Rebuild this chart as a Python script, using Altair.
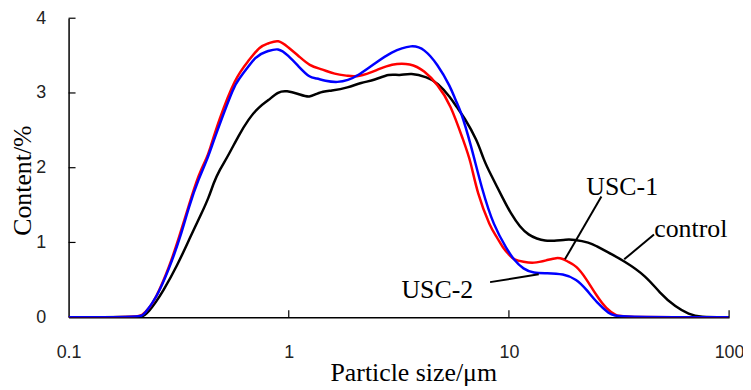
import altair as alt
import pandas as pd

# ---- data ----
control_x = [0.1, 0.2, 0.216, 0.2203, 0.2322, 0.2489, 0.2665, 0.3116, 0.3581, 0.3771, 0.3974, 0.4332,
             0.4563, 0.4806, 0.5333, 0.5916, 0.6565, 0.7283, 0.808, 0.8966, 0.9775, 1.104, 1.246,
             1.359, 1.561, 1.856, 2.132, 2.45, 2.864, 3.178, 3.585, 4.265, 4.732, 5.433, 5.825,
             6.246, 7.172, 7.69, 8.235, 9.465, 10.14, 11.25, 12.3, 13.38, 14.6, 15.92, 18.28,
             19.6, 23.28, 24.97, 27.7, 33.5, 41.98, 48.19, 57.35, 65.86, 73.06, 100]
control_y = [0, 0, 0.01, 0.02, 0.08, 0.2, 0.33, 0.69, 1.08, 1.22, 1.36, 1.6,
             1.8, 1.95, 2.17, 2.43, 2.65, 2.81, 2.9, 3.02, 3.03, 2.99, 2.93,
             3.01, 3.03, 3.07, 3.14, 3.17, 3.26, 3.23, 3.27, 3.21, 3.14, 2.94, 2.8,
             2.68, 2.37, 2.1, 1.92, 1.57, 1.4, 1.2, 1.1, 1.05, 1.02, 1.02, 1.04,
             1.04, 1.0, 0.95, 0.88, 0.75, 0.55, 0.33, 0.13, 0.04, 0, 0]

usc1_x = [0.1, 0.2, 0.216, 0.2322, 0.2489, 0.2858, 0.317, 0.3518, 0.3904, 0.4256, 0.4332, 0.4806,
          0.5716, 0.6565, 0.7413, 0.808, 0.8966, 0.9948, 1.104, 1.246, 1.407, 1.617, 1.856, 2.06,
          2.536, 2.912, 3.585, 4.121, 4.732, 5.433, 6.246, 6.69, 7.172, 8.235, 8.827, 9.465,
          10.14, 10.5, 11.65, 12.93, 14.85, 16.47, 17.66, 18.28, 20.28, 22.5, 24.97, 27.7,
          30.74, 32.95, 100]
usc1_y = [0, 0, 0.02, 0.12, 0.25, 0.66, 1.06, 1.5, 1.92, 2.14, 2.2, 2.63,
          3.21, 3.43, 3.63, 3.66, 3.72, 3.61, 3.5, 3.36, 3.32, 3.25, 3.23, 3.21,
          3.31, 3.39, 3.4, 3.3, 3.12, 2.85, 2.34, 2.1, 1.66, 1.2, 1.07, 0.91,
          0.82, 0.77, 0.74, 0.72, 0.76, 0.8, 0.78, 0.75, 0.69, 0.51, 0.29, 0.11,
          0.02, 0, 0]

usc2_x = [0.1, 0.2, 0.216, 0.2203, 0.2489, 0.2858, 0.3227, 0.3518, 0.3904, 0.4256, 0.4563, 0.5716,
          0.5916, 0.7154, 0.7939, 0.8966, 0.9948, 1.104, 1.246, 1.335, 1.457, 1.673, 1.856,
          2.06, 2.45, 2.912, 3.649, 4.121, 4.732, 5.433, 5.723, 6.029, 6.69, 7.555, 8.529,
          9.795, 10.5, 11.65, 12.93, 14.85, 17.66, 20.28, 22.5, 24.97, 28.67, 30.74, 100]
usc2_y = [0, 0, 0.02, 0.04, 0.24, 0.64, 1.08, 1.48, 1.86, 2.1, 2.37, 3.14,
          3.17, 3.52, 3.55, 3.61, 3.5, 3.36, 3.2, 3.2, 3.16, 3.14, 3.17,
          3.23, 3.39, 3.55, 3.65, 3.59, 3.39, 3.08, 2.9, 2.77, 2.33, 1.7, 1.22,
          0.91, 0.77, 0.64, 0.59, 0.59, 0.58, 0.51, 0.37, 0.2, 0.04, 0, 0]

x_ticks = [0.1, 1, 10, 100]
y_ticks = [0, 1, 2, 3, 4]

# annotation labels and leader lines (data coordinates)
ann_text = ["USC-1", "control", "USC-2"]
ann_tx = [32.7, 67.0, 4.73]
ann_ty = [1.744, 1.173, 0.363]
lead_x1 = [26.3, 45.6, 8.21]
lead_y1 = [1.615, 1.106, 0.469]
lead_x2 = [17.96, 33.4, 13.66]
lead_y2 = [0.774, 0.774, 0.575]

SERIF = "Liberation Serif"
SANS = "Liberation Sans"

xscale = alt.Scale(type="log", domain=[0.1, 100], nice=False)
yscale = alt.Scale(domain=[0, 4], nice=False)

x_axis = alt.Axis(values=x_ticks, format="~g", grid=False, tickSize=0, domainColor="black",
                  domainWidth=1.5, labelFont=SANS, labelFontSize=18, labelColor="#222",
                  labelPadding=27, title="Particle size/μm", titleFont=SERIF, titleFontSize=26,
                  titleFontWeight="normal", titleColor="black", titleX=347, titleY=64,
                  titleBaseline="alphabetic", labelFlush=False)
y_axis = alt.Axis(values=y_ticks, grid=False, tickSize=0, domainColor="black", domainWidth=1.5,
                  labelFont=SANS, labelFontSize=18, labelColor="#222", labelPadding=23,
                  title="Content/%", titleFont=SERIF, titleFontSize=26, titleFontWeight="normal",
                  titleColor="black", titleX=-46, titleY=163, titleAngle=270,
                  titleBaseline="middle", titleAlign="center")


def X(field):
    return alt.X(field, scale=xscale, axis=x_axis)


def Y(field):
    return alt.Y(field, scale=yscale, axis=y_axis)


def line(xs, ys, color):
    df = pd.DataFrame({"x": xs, "y": ys})
    return alt.Chart(df).mark_line(color=color, strokeWidth=2.5, interpolate="basis",
                                   clip=True).encode(x=X("x:Q"), y=Y("y:Q"))


black = line(control_x, control_y, "black")
red = line(usc1_x, usc1_y, "#ff0000")
blue = line(usc2_x, usc2_y, "#0000ff")

xt = alt.Chart(pd.DataFrame({"v": x_ticks[1:]})).mark_rule(color="black", strokeWidth=1.2).encode(
    x=X("v:Q"), y=alt.value(301), y2=alt.value(294))
yt = alt.Chart(pd.DataFrame({"v": y_ticks[1:]})).mark_rule(color="black", strokeWidth=1.2).encode(
    y=Y("v:Q"), x=alt.value(0), x2=alt.value(7))

lead_df = pd.DataFrame({"x1": lead_x1, "y1": lead_y1, "x2": lead_x2, "y2": lead_y2})
leads = alt.Chart(lead_df).mark_rule(color="black", strokeWidth=2).encode(
    x=X("x1:Q"), y=Y("y1:Q"), x2="x2:Q", y2="y2:Q")

txt_df = pd.DataFrame({"t": ann_text, "x": ann_tx, "y": ann_ty})
texts = alt.Chart(txt_df).mark_text(font=SERIF, fontSize=26, color="black", align="center",
                                    baseline="middle").encode(
    x=X("x:Q"), y=Y("y:Q"), text="t:N")

chart = alt.layer(black, red, blue, xt, yt, leads, texts).properties(
    width=665, height=301,
    autosize=alt.AutoSizeParams(type="none"),
    padding={"left": 61, "top": 9, "right": 14, "bottom": 70},
).configure(background="white", view=alt.ViewConfig(stroke=None))

chart.save("out.html", embed_options={"renderer": "svg", "actions": False})
